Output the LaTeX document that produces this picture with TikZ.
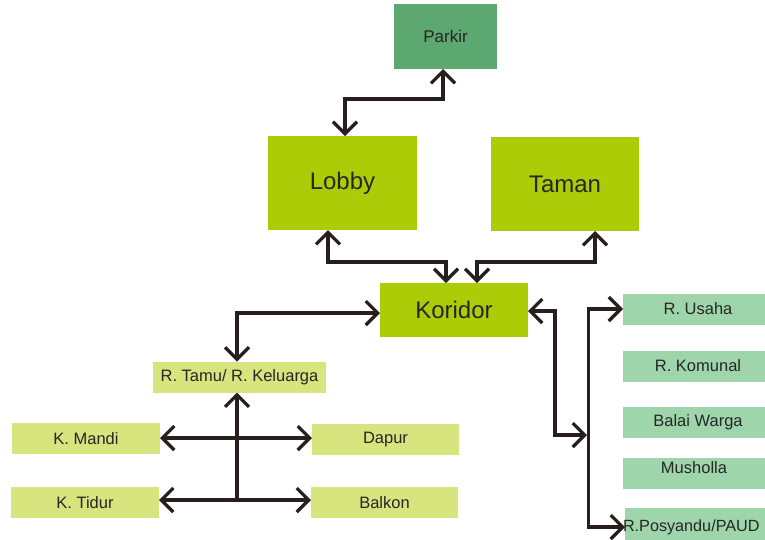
\documentclass[tikz,border=0pt]{standalone}
\usepackage{fontspec}
\setmainfont{Liberation Sans}
\usetikzlibrary{arrows.meta}
\definecolor{parkc}{RGB}{92,168,112}
\definecolor{mainc}{RGB}{172,204,8}
\definecolor{lightc}{RGB}{216,228,126}
\definecolor{rightc}{RGB}{158,213,170}
\definecolor{linec}{RGB}{40,30,30}
\tikzset{
  box/.style={inner sep=0pt, outer sep=0pt, text=black!85},
  bigbox/.style={box, fill=mainc, font=\fontsize{24}{28}\selectfont},
  smallbox/.style={box, fill=lightc, minimum height=31pt, font=\fontsize{16.5}{20}\selectfont},
  rbox/.style={box, fill=rightc, minimum width=150pt, minimum height=31pt, font=\fontsize{16.5}{20}\selectfont},
  barb/.tip={Straight Barb[length=12pt,width=24pt,line width=3.2pt]},
  conn/.style={draw=linec, line width=3.2pt, arrows={barb-barb}},
  conn1/.style={draw=linec, line width=3.2pt, arrows={-barb}},
  plain/.style={draw=linec, line width=3.2pt}
}
\begin{document}
\begin{tikzpicture}[x=1pt,y=-1pt]
\useasboundingbox (0,0) rectangle (765,539);
\clip (0,0) rectangle (765,539);
\fill[white] (0,0) rectangle (765,539);
% boxes
\node[box, fill=parkc, minimum width=103pt, minimum height=65pt, font=\fontsize{17}{20}\selectfont] (parkir) at (445.5,36.5) {Parkir};
\node[bigbox, minimum width=149pt, minimum height=94pt] (lobby) at (342.5,183) {Lobby};
\node[bigbox, minimum width=148pt, minimum height=94pt] (taman) at (565,184) {Taman};
\node[bigbox, minimum width=148pt, minimum height=54pt] (koridor) at (454,310) {Koridor};
\node[smallbox, minimum width=173pt] (tamu) at (239.5,377) {R. Tamu/ R. Keluarga};
\node[smallbox, minimum width=148pt] (mandi) at (86,438.5) {K. Mandi};
\node[smallbox, minimum width=147pt] (dapur) at (385.5,439.5) {Dapur};
\node[smallbox, minimum width=148pt] (tidur) at (85,502.5) {K. Tidur};
\node[smallbox, minimum width=147pt] (balkon) at (384.5,502.5) {Balkon};
\node[rbox] (usaha) at (698,309) {R. Usaha};
\node[rbox] (komunal) at (698,366) {R. Komunal};
\node[rbox] (balai) at (698,422) {Balai Warga};
\node[rbox] (musholla) at (698,473) {};
\node[box, font=\fontsize{16.5}{20}\selectfont] (mushtext) at (694,468) {Musholla};
\node[rbox, minimum height=38pt, anchor=north west] (posy) at (625,508) {};
\node[box, anchor=west, font=\fontsize{16.2}{20}\selectfont] (posytext) at (623,527) {R.Posyandu/PAUD};
% connectors
\draw[conn] (lobby.north -| 345,0) -- (345,99) -- (443,99) -- (parkir.south -| 443,0);
\draw[conn] (lobby.south -| 328,0) -- (328,262) -- (446,262) -- (koridor.north -| 446,0);
\draw[conn] (taman.south -| 595,0) -- (595,262) -- (477,262) -- (koridor.north -| 477,0);
\draw[conn] (koridor.west |- 0,313) -- (237,313) -- (tamu.north -| 237,0);
\draw[conn] (koridor.east |- 0,311) -- (555,311) -- (555,435) -- (587,435);
\draw[plain] (588.5,309) -- (588.5,527);
\draw[conn1] (587,309) -- (usaha.west |- 0,309);
\draw[conn1] (587,527) -- (posy.west |- 0,527);
% lower left
\draw[conn] (mandi.east |- 0,438) -- (dapur.west |- 0,438);
\draw[conn] (tidur.east |- 0,500) -- (balkon.west |- 0,500);
\draw[conn1] (237,501.6) -- (tamu.south -| 237,0);
\end{tikzpicture}
\end{document}
